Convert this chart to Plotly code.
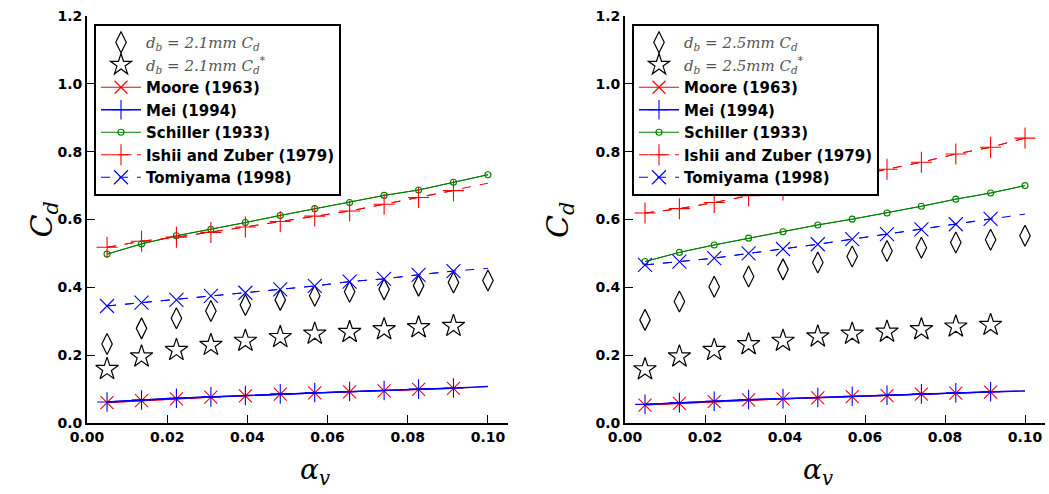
import plotly.graph_objects as go

# ---------------- data ----------------
alpha = [0.005, 0.0136, 0.0223, 0.0309, 0.0395, 0.0482, 0.0568, 0.0655, 0.0741, 0.0827, 0.0914, 0.1]

# left panel: d_b = 2.1 mm
L_cd = [0.233, 0.279, 0.309, 0.330, 0.348, 0.363, 0.375, 0.387, 0.394, 0.405, 0.414, 0.420]
L_cd_star = [0.159, 0.196, 0.215, 0.230, 0.242, 0.253, 0.263, 0.268, 0.276, 0.282, 0.286]
L_moore = [0.060, 0.066, 0.071, 0.076, 0.080, 0.085, 0.089, 0.092, 0.095, 0.099, 0.102, 0.107]
L_mei = [0.062, 0.068, 0.073, 0.077, 0.081, 0.086, 0.090, 0.093, 0.096, 0.100, 0.103, 0.108]
L_schiller = [0.498, 0.528, 0.552, 0.571, 0.591, 0.612, 0.632, 0.650, 0.671, 0.687, 0.710, 0.732]
L_ishii = [0.518, 0.536, 0.548, 0.562, 0.578, 0.594, 0.610, 0.625, 0.645, 0.665, 0.685, 0.707]
L_tomiyama = [0.345, 0.355, 0.363, 0.375, 0.384, 0.394, 0.404, 0.417, 0.425, 0.437, 0.448, 0.456]

# right panel: d_b = 2.5 mm
R_cd = [0.304, 0.358, 0.402, 0.432, 0.453, 0.473, 0.491, 0.507, 0.517, 0.532, 0.540, 0.552]
R_cd_star = [0.158, 0.196, 0.215, 0.232, 0.242, 0.255, 0.263, 0.269, 0.276, 0.284, 0.289]
R_moore = [0.053, 0.058, 0.063, 0.068, 0.071, 0.074, 0.078, 0.081, 0.085, 0.088, 0.091, 0.094]
R_mei = [0.055, 0.060, 0.064, 0.069, 0.072, 0.075, 0.079, 0.082, 0.086, 0.089, 0.092, 0.095]
R_schiller = [0.476, 0.503, 0.525, 0.545, 0.564, 0.584, 0.601, 0.619, 0.639, 0.660, 0.678, 0.700]
R_ishii = [0.619, 0.632, 0.650, 0.670, 0.687, 0.705, 0.727, 0.748, 0.769, 0.793, 0.813, 0.840]
R_tomiyama = [0.466, 0.476, 0.486, 0.500, 0.513, 0.527, 0.542, 0.557, 0.571, 0.586, 0.602, 0.616]

# number of markers drawn per model curve (line always spans all points)
L_marks = {"moore": 11, "mei": 11, "schiller": 12, "ishii": 11, "tomiyama": 11}
R_marks = {"moore": 11, "mei": 11, "schiller": 12, "ishii": 12, "tomiyama": 11}

x_ticks = [0.00, 0.02, 0.04, 0.06, 0.08, 0.10]
y_ticks = [0.0, 0.2, 0.4, 0.6, 0.8, 1.0, 1.2]

W, H = 1049, 494
ML, MR, MT, MB = 87, 4, 16, 71
PW, PH = W - ML - MR, H - MT - MB
BOLD = "DejaVu Sans"

fig = go.Figure()

GRAY = "color:#555555;font-weight:normal;font-family:'DejaVu Serif';font-style:italic"


def add_panel(xa, ya, leg, db, cd, cd_star, moore, mei, schiller, ishii, tomi, marks):
    common = dict(xaxis=xa, yaxis=ya, legend=leg)
    fig.add_trace(go.Scatter(x=alpha[:len(cd)], y=cd, mode="markers",
                             name=f"<span style=\"{GRAY}\">d<sub>b</sub> = {db}mm C<sub>d</sub></span>",
                             marker=dict(symbol="diamond-tall-open", size=15, color="black",
                                         line=dict(width=1.2, color="black")), **common))
    fig.add_trace(go.Scatter(x=alpha[:len(cd_star)], y=cd_star, mode="markers",
                             name=f"<span style=\"{GRAY}\">d<sub>b</sub> = {db}mm C<sub>d</sub><sup>*</sup></span>",
                             marker=dict(symbol="star-open", size=17, color="black",
                                         line=dict(width=1.2, color="black")), **common))

    models = [
        ("Moore (1963)", moore, "moore", "#ff0000", "solid", "x-thin-open", 13, 1.0),
        ("Mei (1994)", mei, "mei", "#0000ff", "solid", "cross-thin-open", 14, 1.3),
        ("Schiller (1933)", schiller, "schiller", "#008000", "solid", "circle-open", 6, 1.0),
        ("Ishii and Zuber (1979)", ishii, "ishii", "#ff0000", "dash", "cross-thin-open", 15, 1.0),
        ("Tomiyama (1998)", tomi, "tomiyama", "#0000ff", "dash", "x-thin-open", 14, 1.0),
    ]
    for name, vals, key, col, dash, sym, size, lw in models:
        n = marks[key]
        fig.add_trace(go.Scatter(x=alpha, y=vals, mode="lines", showlegend=False,
                                 line=dict(color=col, dash=dash, width=lw), hoverinfo="skip",
                                 **common))
        fig.add_trace(go.Scatter(x=alpha[:n], y=vals[:n], mode="lines+markers", name=name,
                                 line=dict(color=col, dash=dash, width=lw),
                                 marker=dict(symbol=sym, size=size, color=col,
                                             line=dict(width=1.1, color=col)),
                                 **common))


add_panel("x", "y", "legend", "2.1", L_cd, L_cd_star, L_moore, L_mei, L_schiller, L_ishii,
          L_tomiyama, L_marks)
add_panel("x2", "y2", "legend2", "2.5", R_cd, R_cd_star, R_moore, R_mei, R_schiller, R_ishii,
          R_tomiyama, R_marks)

left_dom = [0, (508 - ML) / PW]
right_dom = [(625 - ML) / PW, 1]

axis_common = dict(
    showgrid=False, zeroline=False, showline=True, linecolor="black", linewidth=1.8,
    ticks="inside", ticklen=8, tickwidth=1, tickcolor="black",
    tickfont=dict(family=BOLD, size=14, color="black", weight="bold"),
    mirror=False, automargin=False,
)
xaxis_kw = dict(range=[0, 0.105], tickvals=x_ticks, ticktext=[f"{v:.2f}" for v in x_ticks], **axis_common)
yaxis_kw = dict(range=[0, 1.2], tickvals=y_ticks, ticktext=[f"{v:.1f}" for v in y_ticks], **axis_common)

legend_common = dict(
    xref="paper", yref="paper", xanchor="left", yanchor="top",
    bgcolor="white", bordercolor="black", borderwidth=2,
    font=dict(family=BOLD, size=15, color="black", weight="bold"),
    itemwidth=40, tracegroupgap=0,
)


def px_x(p):
    return (p - ML) / PW


def px_y(p):
    return 1 - (p - MT) / PH


fig.update_layout(
    width=W, height=H, margin=dict(l=ML, r=MR, t=MT, b=MB, autoexpand=False),
    paper_bgcolor="white", plot_bgcolor="white",
    xaxis=dict(domain=left_dom, anchor="y", **xaxis_kw),
    yaxis=dict(domain=[0, 1], anchor="x", **yaxis_kw),
    xaxis2=dict(domain=right_dom, anchor="y2", **xaxis_kw),
    yaxis2=dict(domain=[0, 1], anchor="x2", **yaxis_kw),
    legend=dict(x=px_x(94), y=px_y(24), **legend_common),
    legend2=dict(x=px_x(632), y=px_y(24), **legend_common),
    showlegend=True,
)

title_font = dict(family="DejaVu Serif", size=30, color="black")
for xc in (21, 559):
    fig.add_annotation(x=px_x(xc), y=px_y(220), xref="paper", yref="paper", showarrow=False,
                       text="<i>C<sub>d</sub></i>", textangle=-90, font=title_font)
x_title_font = dict(family="DejaVu Serif", size=28, color="black")
for xc in (298, 835):
    fig.add_annotation(x=px_x(xc), y=px_y(451), xref="paper", yref="paper", showarrow=False,
                       yanchor="top", text="<i>α<sub>v</sub></i>", font=x_title_font)

fig.write_html("out.html", config={"displayModeBar": False},
               post_script="document.body.style.margin='0';document.body.style.overflow='hidden';")
